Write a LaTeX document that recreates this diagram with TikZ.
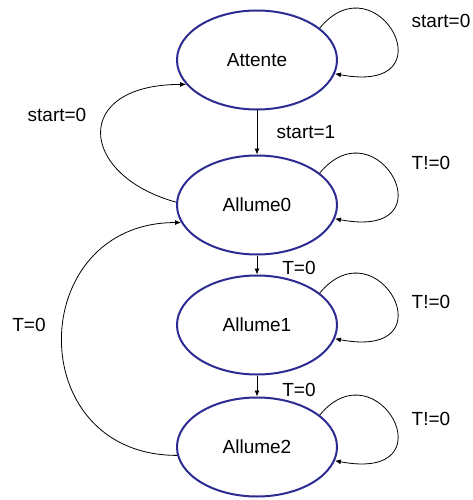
\documentclass[tikz,border=0pt]{standalone}
\usepackage{fontspec}
\setmainfont{Liberation Sans}
\usetikzlibrary{shapes.geometric,arrows.meta}
\definecolor{etatbleu}{RGB}{43,43,145}
\begin{document}
\begin{tikzpicture}[x=1pt,y=1pt,
  every node/.append style={font=\fontsize{19}{22}\selectfont},
  etat/.style={ellipse,draw=etatbleu,line width=2pt,minimum width=160,minimum height=99,inner sep=0pt},
  fleche/.style={black,line width=0.8pt,-{Latex[length=6pt,width=5pt]}}]
\useasboundingbox (0,0) rectangle (472,-500);
\node [etat] (attente) at (257,-60) {Attente};
\node [etat] (allume0) at (257,-205) {Allume0};
\node [etat] (allume1) at (257,-325) {Allume1};
\node [etat] (allume2) at (257,-447) {Allume2};
\draw [fleche] (attente) -- (allume0);
\node (startun) at (306,-132) {start=1};
\draw [fleche] (allume0) -- (allume1);
\node (tzeroa) at (299,-268) {T=0};
\draw [fleche] (allume1) -- (allume2);
\node (tzerob) at (299,-390) {T=0};
\draw [fleche] (attente.27) .. controls +(58,70) and +(117,-22) .. (attente.-10);
\node (startzeroa) at (441,-21) {start=0};
\draw [fleche] (allume0.27) .. controls +(58,70) and +(117,-22) .. (allume0.-10);
\node (tdiffa) at (431,-163) {T!=0};
\draw [fleche] (allume1.27) .. controls +(58,70) and +(117,-22) .. (allume1.-10);
\node (tdiffb) at (431,-302) {T!=0};
\draw [fleche] (allume2.27) .. controls +(58,70) and +(117,-22) .. (allume2.-10);
\node (tdiffc) at (431,-419) {T!=0};
\draw [fleche] (allume0.178) .. controls +(-98,27) and +(-115,0) .. (attente.199);
\node (startzerob) at (57,-115) {start=0};
\draw [fleche] (allume2.186) .. controls +(-156,0) and +(-156,0) .. (allume0.193);
\node (tzeroc) at (29,-325) {T=0};
\end{tikzpicture}
\end{document}
